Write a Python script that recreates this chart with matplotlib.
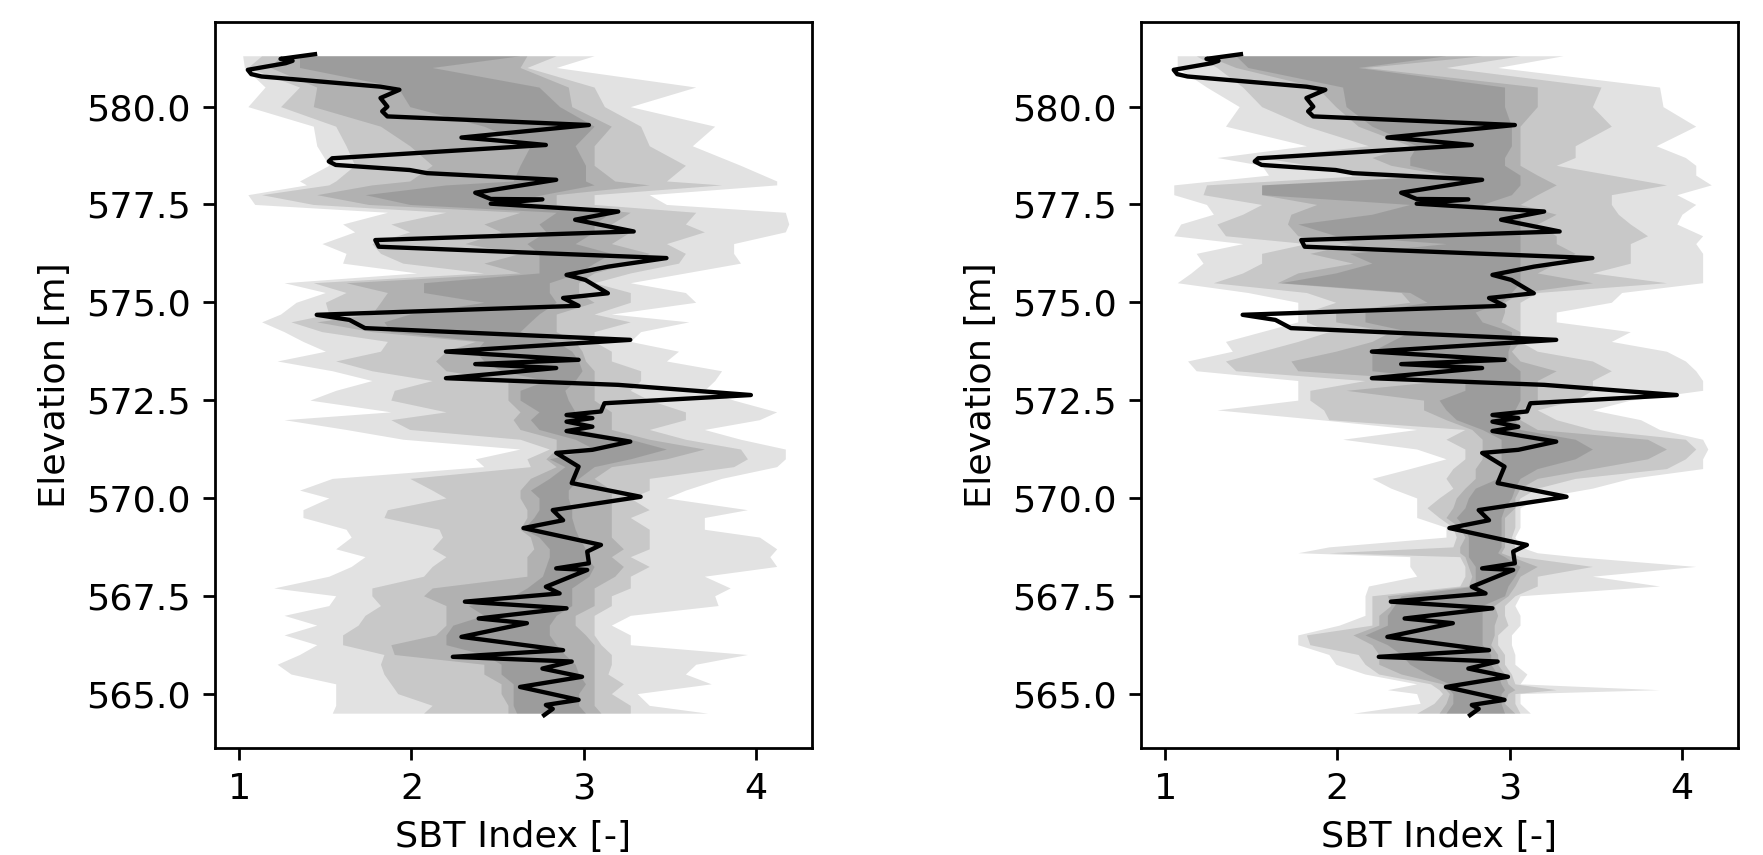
import matplotlib
matplotlib.use("Agg")
import matplotlib.pyplot as plt

# Measured SBT profile (same in both panels)
line_elev = [581.34, 581.22, 581.17, 581.11, 580.94, 580.83, 580.77, 580.51, 580.43, 580.22,
             580.00, 579.88, 579.75, 579.53, 579.21, 579.15, 579.02, 578.68, 578.60, 578.51,
             578.38, 578.30, 578.13, 577.80, 577.64, 577.63, 577.52, 577.32, 577.11, 576.81,
             576.59, 576.42, 576.13, 575.91, 575.70, 575.57, 575.23, 575.11, 574.91, 574.68,
             574.55, 574.34, 574.04, 573.74, 573.53, 573.42, 573.32, 573.06, 572.89, 572.63,
             572.42, 572.21, 572.12, 572.04, 571.95, 571.82, 571.71, 571.44, 571.23, 571.15,
             570.80, 570.38, 570.03, 569.69, 569.43, 569.23, 568.80, 568.63, 568.33, 568.20,
             568.16, 567.73, 567.56, 567.35, 567.18, 566.92, 566.80, 566.45, 566.11, 565.94,
             565.82, 565.64, 565.43, 565.17, 564.84, 564.71, 564.61, 564.45]
line_sbt = [1.44, 1.24, 1.31, 1.27, 1.05, 1.07, 1.13, 1.82, 1.93, 1.82,
            1.86, 1.83, 1.86, 3.03, 2.29, 2.46, 2.78, 1.54, 1.52, 1.56,
            1.99, 2.09, 2.84, 2.37, 2.46, 2.76, 2.46, 3.20, 2.95, 3.29,
            1.79, 1.81, 3.48, 3.14, 2.90, 3.01, 3.14, 2.88, 2.97, 1.45,
            1.64, 1.73, 3.27, 2.20, 2.97, 2.37, 2.84, 2.20, 3.20, 3.97,
            3.12, 3.10, 2.90, 3.05, 2.90, 3.05, 2.90, 3.27, 3.05, 2.84,
            2.97, 2.93, 3.33, 2.82, 2.88, 2.65, 3.10, 3.02, 3.03, 2.84,
            3.02, 2.78, 2.86, 2.31, 2.90, 2.39, 2.67, 2.29, 2.88, 2.24,
            2.93, 2.76, 2.99, 2.63, 2.97, 2.78, 2.82, 2.77]

# Left panel: shaded ranges (outermost -> innermost)
left_elev = [581.3, 581.0, 580.5, 580.0, 579.5, 579.0, 578.5, 578.1, 578.0, 577.75,
             577.5, 577.3, 577.0, 576.8, 576.5, 576.25, 576.0, 575.75, 575.5, 575.25,
             575.0, 574.7, 574.5, 574.25, 574.0, 573.75, 573.5, 573.25, 573.0, 572.75,
             572.5, 572.2, 572.0, 571.75, 571.5, 571.25, 571.0, 570.8, 570.5, 570.2,
             570.0, 569.7, 569.5, 569.2, 569.0, 568.7, 568.5, 568.25, 568.0, 567.7,
             567.5, 567.25, 567.0, 566.75, 566.5, 566.25, 566.0, 565.75, 565.5, 565.25,
             565.0, 564.7, 564.5]
left_r1_lo = [1.02, 1.03, 1.15, 1.05, 1.43, 1.45, 1.52, 1.35, 1.39, 1.05,
              1.09, 1.86, 1.60, 1.67, 1.48, 1.62, 1.60, 2.03, 1.26, 1.50,
              1.33, 1.24, 1.13, 1.26, 1.37, 1.50, 1.22, 1.54, 1.77, 1.56,
              1.41, 1.88, 1.26, 1.62, 1.95, 2.63, 2.37, 2.42, 1.54, 1.35,
              1.52, 1.37, 1.37, 1.62, 1.65, 1.56, 1.73, 1.65, 1.52, 1.20,
              1.56, 1.52, 1.26, 1.45, 1.26, 1.45, 1.35, 1.22, 1.30, 1.56,
              1.56, 1.56, 1.54]
left_r1_hi = [3.06, 2.84, 3.65, 3.27, 3.76, 3.63, 3.91, 4.12, 4.12, 3.38,
              3.48, 4.17, 4.19, 4.17, 3.87, 3.87, 3.91, 3.59, 3.27, 3.59,
              3.65, 3.16, 3.61, 3.33, 3.27, 3.55, 3.48, 3.80, 3.76, 3.70,
              3.87, 4.12, 4.02, 3.70, 3.91, 4.17, 4.17, 4.12, 3.80, 3.59,
              3.48, 3.95, 3.70, 3.70, 4.02, 4.12, 4.08, 4.12, 3.70, 3.85,
              3.76, 3.78, 3.27, 3.16, 3.27, 3.27, 3.95, 3.65, 3.59, 3.74,
              3.31, 3.38, 3.72]
left_r2_lo = [1.13, 1.05, 1.35, 1.24, 1.56, 1.62, 1.67, 1.56, 1.52, 1.13,
              1.43, 2.20, 1.88, 1.99, 1.77, 1.82, 1.95, 2.42, 1.43, 1.62,
              1.50, 1.52, 1.30, 1.48, 1.86, 1.82, 1.56, 1.77, 2.12, 1.90,
              1.88, 2.20, 1.88, 1.99, 2.63, 2.80, 2.67, 2.69, 1.99, 2.12,
              2.20, 1.86, 1.84, 2.16, 2.18, 2.12, 2.20, 2.12, 2.07, 1.77,
              1.77, 1.82, 1.73, 1.69, 1.60, 1.60, 1.84, 1.82, 1.84, 1.88,
              1.92, 2.12, 2.07]
left_r2_hi = [2.84, 2.67, 3.06, 3.12, 3.33, 3.38, 3.59, 3.48, 3.80, 3.06,
              3.06, 3.65, 3.59, 3.70, 3.48, 3.59, 3.55, 3.27, 3.06, 3.27,
              3.27, 3.06, 3.27, 3.06, 3.06, 3.16, 3.16, 3.33, 3.33, 3.27,
              3.38, 3.59, 3.59, 3.38, 3.59, 3.91, 3.95, 3.87, 3.38, 3.38,
              3.27, 3.38, 3.27, 3.38, 3.38, 3.38, 3.27, 3.38, 3.27, 3.27,
              3.16, 3.16, 3.06, 3.06, 3.06, 3.10, 3.16, 3.16, 3.14, 3.23,
              3.16, 3.27, 3.27]
left_r3_lo = [1.24, 1.18, 1.45, 1.43, 1.82, 1.99, 2.12, 1.99, 1.77, 1.45,
              1.75, 2.63, 2.42, 2.52, 2.31, 2.63, 2.42, 2.63, 1.62, 1.86,
              1.82, 1.77, 1.45, 1.77, 2.37, 2.20, 2.14, 2.20, 2.56, 2.56,
              2.56, 2.63, 2.59, 2.63, 2.84, 2.84, 2.78, 2.84, 2.69, 2.63,
              2.63, 2.67, 2.67, 2.63, 2.69, 2.71, 2.67, 2.67, 2.67, 2.12,
              2.07, 2.20, 2.20, 2.20, 2.14, 1.88, 1.90, 2.42, 2.42, 2.52,
              2.52, 2.56, 2.56]
left_r3_hi = [2.67, 2.63, 2.91, 2.93, 3.16, 3.06, 3.06, 3.18, 3.38, 2.84,
              2.84, 3.27, 3.16, 3.27, 3.16, 3.38, 3.27, 3.06, 2.97, 2.97,
              3.06, 2.84, 2.84, 2.84, 2.95, 2.99, 3.01, 3.06, 3.06, 3.06,
              3.06, 3.16, 3.16, 3.16, 3.38, 3.70, 3.48, 3.16, 3.06, 3.16,
              3.16, 3.16, 3.16, 3.16, 3.16, 3.23, 3.16, 3.23, 3.18, 3.06,
              3.06, 3.06, 2.95, 2.95, 3.01, 3.06, 3.06, 3.06, 3.06, 3.06,
              3.06, 3.06, 3.10]
left_r4_lo = [1.35, 1.35, 1.92, 1.99, 2.42, 2.69, 2.63, 2.59, 2.20, 1.73,
              1.99, 2.84, 2.74, 2.78, 2.67, 2.74, 2.74, 2.74, 2.07, 2.07,
              2.42, 1.99, 1.84, 1.88, 2.42, 2.37, 2.42, 2.52, 2.78, 2.63,
              2.63, 2.74, 2.69, 2.74, 2.95, 3.06, 2.80, 2.89, 2.80, 2.69,
              2.74, 2.74, 2.71, 2.65, 2.74, 2.80, 2.80, 2.78, 2.76, 2.67,
              2.59, 2.33, 2.42, 2.24, 2.20, 2.20, 2.42, 2.52, 2.52, 2.59,
              2.59, 2.59, 2.61]
left_r4_hi = [2.63, 2.12, 2.74, 2.86, 3.06, 2.95, 3.01, 3.01, 3.06, 2.76,
              2.52, 3.16, 3.06, 3.06, 2.95, 3.16, 3.06, 2.97, 2.80, 2.80,
              2.84, 2.74, 2.69, 2.63, 2.84, 2.93, 2.97, 2.99, 2.95, 2.89,
              2.91, 2.95, 2.95, 2.97, 3.27, 3.48, 3.27, 3.06, 2.97, 2.91,
              2.91, 2.93, 2.93, 2.95, 2.97, 3.01, 3.01, 3.06, 3.03, 2.93,
              2.93, 2.93, 2.84, 2.80, 2.80, 2.84, 2.89, 2.95, 2.97, 3.01,
              2.97, 2.97, 3.01]

# Right panel: shaded ranges (outermost -> innermost)
right_elev = [581.3, 581.0, 580.5, 580.0, 579.5, 579.0, 578.7, 578.5, 578.25, 578.0,
              577.75, 577.5, 577.25, 577.0, 576.7, 576.5, 576.25, 576.0, 575.75, 575.5,
              575.25, 575.0, 574.75, 574.5, 574.25, 574.0, 573.75, 573.5, 573.25, 573.0,
              572.75, 572.5, 572.25, 572.0, 571.75, 571.5, 571.25, 571.0, 570.75, 570.5,
              570.25, 570.0, 569.75, 569.5, 569.25, 569.0, 568.75, 568.6, 568.5, 568.25,
              568.0, 567.75, 567.5, 567.25, 567.0, 566.75, 566.5, 566.25, 566.0, 565.75,
              565.5, 565.25, 565.1, 565.0, 564.75, 564.5]
right_r1_lo = [1.07, 1.07, 1.24, 1.43, 1.35, 1.82, 1.30, 1.56, 1.60, 1.05,
               1.05, 1.24, 1.28, 1.09, 1.05, 1.45, 1.18, 1.22, 1.15, 1.07,
               1.48, 1.77, 1.77, 1.77, 1.56, 1.35, 1.39, 1.13, 1.18, 1.77,
               1.77, 1.77, 1.30, 1.90, 2.46, 2.03, 2.46, 2.63, 2.42, 2.20,
               2.31, 2.46, 2.46, 2.46, 2.63, 2.63, 1.95, 1.77, 2.42, 2.42,
               2.46, 2.18, 2.16, 2.16, 2.16, 2.01, 1.77, 1.77, 1.95, 1.99,
               2.16, 2.46, 2.29, 2.46, 2.48, 2.09]
right_r1_hi = [3.31, 2.93, 3.87, 3.89, 4.08, 3.85, 4.02, 4.08, 4.08, 4.17,
               3.97, 4.08, 4.00, 3.97, 4.12, 4.08, 4.12, 4.12, 4.12, 4.12,
               3.65, 3.59, 3.27, 3.27, 3.70, 3.59, 3.91, 4.02, 4.08, 4.12,
               4.12, 3.70, 3.48, 3.76, 3.87, 4.12, 4.15, 4.12, 4.12, 3.70,
               3.48, 3.16, 3.06, 3.06, 3.06, 3.03, 3.06, 3.16, 3.38, 4.08,
               3.48, 3.87, 3.06, 3.03, 3.06, 3.06, 3.01, 3.01, 3.03, 3.03,
               3.10, 3.06, 3.87, 3.06, 3.06, 3.12]
right_r2_lo = [1.18, 1.30, 1.45, 1.56, 1.82, 2.18, 1.56, 1.84, 2.20, 1.24,
               1.22, 1.56, 1.45, 1.30, 1.35, 1.82, 1.56, 1.56, 1.45, 1.28,
               1.82, 1.99, 1.82, 1.82, 1.95, 1.77, 1.56, 1.35, 1.41, 2.16,
               1.84, 1.84, 1.92, 1.95, 2.74, 2.63, 2.74, 2.74, 2.67, 2.63,
               2.67, 2.59, 2.52, 2.59, 2.67, 2.69, 2.67, 1.95, 2.71, 2.74,
               2.74, 2.71, 2.20, 2.20, 2.20, 2.20, 1.82, 1.84, 2.12, 2.16,
               2.24, 2.54, 2.59, 2.61, 2.56, 2.46]
right_r2_hi = [3.06, 2.63, 3.53, 3.48, 3.59, 3.38, 3.38, 3.27, 3.59, 3.91,
               3.59, 3.59, 3.63, 3.70, 3.80, 3.70, 3.70, 3.70, 3.48, 3.91,
               3.16, 3.06, 3.06, 3.06, 3.06, 3.06, 3.16, 3.48, 3.59, 3.48,
               3.48, 3.38, 3.16, 3.27, 3.48, 4.02, 4.08, 4.02, 3.91, 3.38,
               3.16, 3.06, 3.03, 3.03, 3.03, 3.01, 3.03, 3.01, 3.06, 3.48,
               3.16, 3.16, 3.03, 2.97, 2.97, 2.99, 2.93, 2.93, 2.97, 2.97,
               3.01, 3.03, 3.27, 3.03, 3.03, 3.06]
right_r3_lo = [1.24, 1.41, 1.88, 1.99, 2.12, 2.42, 2.20, 2.31, 2.63, 1.56,
               1.56, 1.88, 1.73, 1.71, 1.77, 2.09, 1.84, 2.09, 1.77, 1.65,
               2.37, 2.42, 1.99, 1.99, 2.31, 2.20, 1.99, 1.73, 1.77, 2.63,
               2.05, 2.50, 2.50, 2.63, 2.78, 2.84, 2.84, 2.84, 2.80, 2.80,
               2.74, 2.69, 2.67, 2.63, 2.71, 2.74, 2.71, 2.71, 2.74, 2.76,
               2.78, 2.76, 2.29, 2.31, 2.24, 2.24, 2.09, 2.20, 2.24, 2.24,
               2.37, 2.61, 2.63, 2.65, 2.63, 2.59]
right_r3_hi = [2.84, 2.16, 3.16, 3.16, 3.06, 3.06, 3.06, 3.06, 3.16, 3.27,
               3.16, 3.06, 3.27, 3.16, 3.27, 3.27, 3.38, 3.27, 3.16, 3.48,
               3.06, 2.97, 2.97, 2.95, 3.06, 3.06, 3.01, 3.06, 3.27, 3.16,
               3.16, 3.16, 3.06, 3.06, 3.16, 3.80, 3.91, 3.80, 3.48, 3.16,
               3.06, 3.03, 3.03, 2.97, 2.97, 2.97, 2.97, 2.95, 3.01, 3.16,
               3.06, 3.03, 2.99, 2.91, 2.93, 2.91, 2.91, 2.89, 2.93, 2.93,
               2.97, 2.99, 3.03, 2.99, 2.97, 3.03]
right_r4_lo = [1.41, 1.48, 2.03, 2.05, 2.20, 2.46, 2.42, 2.42, 2.67, 1.56,
               1.56, 2.42, 2.20, 1.77, 1.99, 2.63, 2.07, 2.20, 1.99, 1.67,
               2.42, 2.52, 2.16, 2.16, 2.42, 2.31, 2.20, 2.20, 2.20, 2.74,
               2.74, 2.59, 2.63, 2.69, 2.84, 2.95, 2.95, 2.95, 2.95, 2.93,
               2.80, 2.76, 2.74, 2.69, 2.74, 2.76, 2.76, 2.76, 2.76, 2.80,
               2.80, 2.80, 2.37, 2.33, 2.29, 2.29, 2.16, 2.29, 2.37, 2.42,
               2.52, 2.65, 2.65, 2.67, 2.67, 2.63]
right_r4_hi = [2.63, 2.12, 2.97, 2.97, 3.01, 3.01, 2.97, 2.97, 3.06, 3.06,
               3.01, 2.84, 3.06, 3.06, 3.06, 3.06, 3.06, 3.06, 3.06, 3.06,
               3.01, 2.95, 2.80, 2.84, 3.01, 3.01, 2.99, 2.99, 3.06, 3.06,
               3.06, 3.06, 3.03, 3.03, 3.06, 3.38, 3.48, 3.38, 3.16, 3.06,
               3.03, 3.01, 2.97, 2.95, 2.95, 2.95, 2.95, 2.93, 2.97, 3.06,
               3.03, 2.99, 2.97, 2.84, 2.84, 2.84, 2.84, 2.84, 2.89, 2.89,
               2.93, 2.95, 2.97, 2.95, 2.95, 2.97]

xticks = [1, 2, 3, 4]
yticks = [565.0, 567.5, 570.0, 572.5, 575.0, 577.5, 580.0]


def draw_panel(ax, elev, ranges):
    # stack the ranges with a light transparent grey so overlaps get darker
    for lo, hi in ranges:
        ax.fill_betweenx(elev, lo, hi, color='k', alpha=0.115, lw=0)
    ax.plot(line_sbt, line_elev, color='k', lw=1.25)
    ax.set_xlim(0.86, 4.325)
    ax.set_ylim(563.62, 582.15)
    ax.set_xticks(xticks)
    ax.set_yticks(yticks)
    ax.set_yticklabels([f"{t:.1f}" for t in yticks])
    ax.set_xlabel("SBT Index [-]")
    ax.set_ylabel("Elevation [m]")


plt.rcParams['font.size'] = 10.5
fig = plt.figure(figsize=(7.052, 3.42), dpi=250)
ax1 = fig.add_axes([0.122, 0.1256, 0.3386, 0.8481])
ax2 = fig.add_axes([0.6472, 0.1256, 0.3386, 0.8481])

draw_panel(ax1, left_elev, [(left_r1_lo, left_r1_hi), (left_r2_lo, left_r2_hi),
                            (left_r3_lo, left_r3_hi), (left_r4_lo, left_r4_hi)])
draw_panel(ax2, right_elev, [(right_r1_lo, right_r1_hi), (right_r2_lo, right_r2_hi),
                             (right_r3_lo, right_r3_hi), (right_r4_lo, right_r4_hi)])

fig.savefig("out.png", dpi=250)
